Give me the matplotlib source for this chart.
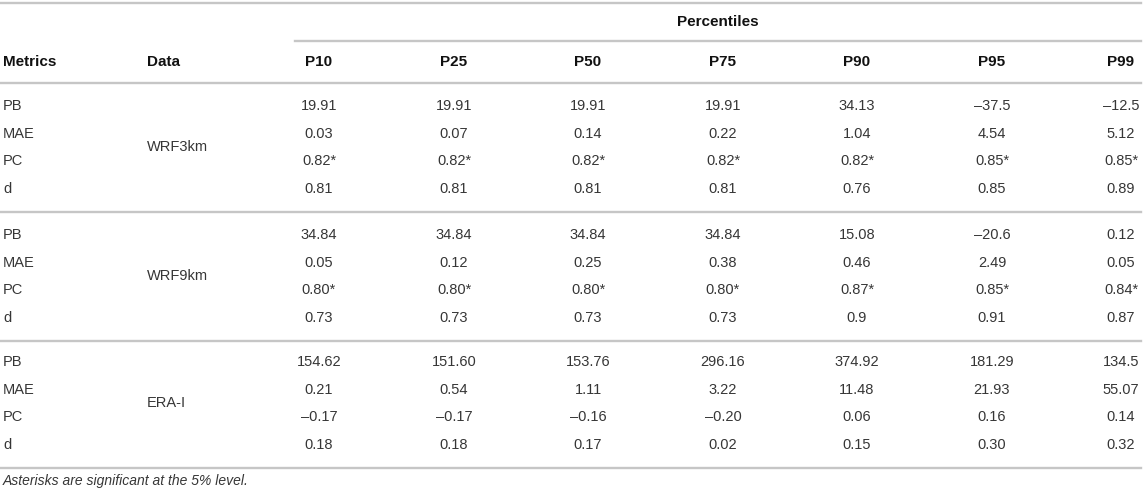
import matplotlib
matplotlib.use('Agg')
import matplotlib.pyplot as plt

plt.rcParams['font.family'] = ['Liberation Sans', 'DejaVu Sans']

percentiles = ['P10', 'P25', 'P50', 'P75', 'P90', 'P95', 'P99']
metrics = ['PB', 'MAE', 'PC', 'd']
datasets = ['WRF3km', 'WRF9km', 'ERA-I']

# one list per metric row, values as printed in the table
wrf3_pb = ['19.91', '19.91', '19.91', '19.91', '34.13', '\u201337.5', '\u201312.5']
wrf3_mae = ['0.03', '0.07', '0.14', '0.22', '1.04', '4.54', '5.12']
wrf3_pc = ['0.82*', '0.82*', '0.82*', '0.82*', '0.82*', '0.85*', '0.85*']
wrf3_d = ['0.81', '0.81', '0.81', '0.81', '0.76', '0.85', '0.89']

wrf9_pb = ['34.84', '34.84', '34.84', '34.84', '15.08', '\u201320.6', '0.12']
wrf9_mae = ['0.05', '0.12', '0.25', '0.38', '0.46', '2.49', '0.05']
wrf9_pc = ['0.80*', '0.80*', '0.80*', '0.80*', '0.87*', '0.85*', '0.84*']
wrf9_d = ['0.73', '0.73', '0.73', '0.73', '0.9', '0.91', '0.87']

era_pb = ['154.62', '151.60', '153.76', '296.16', '374.92', '181.29', '134.5']
era_mae = ['0.21', '0.54', '1.11', '3.22', '11.48', '21.93', '55.07']
era_pc = ['\u20130.17', '\u20130.17', '\u20130.16', '\u20130.20', '0.06', '0.16', '0.14']
era_d = ['0.18', '0.18', '0.17', '0.02', '0.15', '0.30', '0.32']

blocks = [
    [wrf3_pb, wrf3_mae, wrf3_pc, wrf3_d],
    [wrf9_pb, wrf9_mae, wrf9_pc, wrf9_d],
    [era_pb, era_mae, era_pc, era_d],
]

footnote = 'Asterisks are significant at the 5% level.'

W, H = 1143, 494
fig = plt.figure(figsize=(W / 100, H / 100), dpi=100)
ax = fig.add_axes([0, 0, 1, 1])
ax.set_xlim(0, W)
ax.set_ylim(H, 0)
ax.axis('off')

line_col = '#c6c6c6'
txt_col = '#363636'
hdr_col = '#111111'
fs = 10.5
hfs = 11

col_x = [319, 454, 588, 723, 857, 992, 1121]
metric_x = 3
data_x = 147

# horizontal rules
ax.plot([0, 1141], [3, 3], color=line_col, lw=1.7)
ax.plot([295, 1141], [41, 41], color=line_col, lw=1.7)
ax.plot([0, 1141], [83, 83], color=line_col, lw=1.7)

# headers
ax.text(718, 22, 'Percentiles', ha='center', va='center', fontsize=hfs,
        fontweight='bold', color=hdr_col)
ax.text(metric_x, 62, 'Metrics', ha='left', va='center', fontsize=hfs,
        fontweight='bold', color=hdr_col)
ax.text(data_x, 62, 'Data', ha='left', va='center', fontsize=hfs,
        fontweight='bold', color=hdr_col)
for x, p in zip(col_x, percentiles):
    ax.text(x, 62, p, ha='center', va='center', fontsize=hfs,
            fontweight='bold', color=hdr_col)

# body
block_top = [106, 235, 362]
row_step = 27.6
for b, name in enumerate(datasets):
    y0 = block_top[b]
    for r, m in enumerate(metrics):
        y = y0 + r * row_step
        ax.text(metric_x, y, m, ha='left', va='center', fontsize=fs, color=txt_col)
        for x, v in zip(col_x, blocks[b][r]):
            ax.text(x, y, v, ha='center', va='center', fontsize=fs, color=txt_col)
    ax.text(data_x, y0 + 1.5 * row_step, name, ha='left', va='center',
            fontsize=fs, color=txt_col)
    yl = y0 + 3 * row_step + 23
    ax.plot([0, 1141], [yl, yl], color=line_col, lw=1.7)

ax.text(metric_x, 481, footnote, ha='left', va='center', fontsize=10,
        style='italic', color=txt_col)

fig.savefig('out.png', dpi=100)
